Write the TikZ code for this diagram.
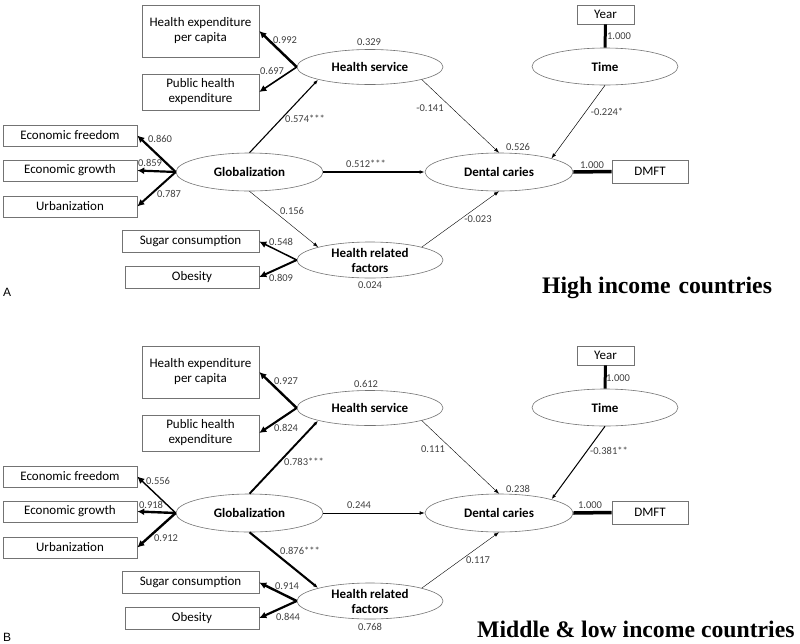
\documentclass[tikz,border=0pt]{standalone}
\usepackage{fontspec}
\setmainfont{Carlito}
\newfontfamily\titlefont{Liberation Serif}
\newfontfamily\panelfont{Liberation Sans}
\usetikzlibrary{shapes.geometric, arrows.meta, positioning}

\tikzset{
  latent/.style={ellipse, draw=black!55, line width=0.6pt, inner sep=0pt,
    align=center, font=\fontsize{13}{15}\selectfont\bfseries},
  manifest/.style={rectangle, draw=black!55, line width=0.6pt, inner sep=0pt,
    align=center, font=\fontsize{13}{15}\selectfont},
  coef/.style={font=\fontsize{10.5}{11}\selectfont, text=black!75, inner sep=0.5pt},
  loading/.style={-{Latex[length=7pt,width=7pt]}, line width=#1},
  effect/.style={-{Latex[length=5pt,width=3.6pt]}, line width=#1},
  fixedlink/.style={line width=#1},
  title/.style={font=\titlefont\bfseries\fontsize{23.7}{26}\selectfont, anchor=base west, inner sep=0pt},
  panel/.style={font=\panelfont\fontsize{12}{14}\selectfont, anchor=base west, inner sep=0pt}
}

% nodes shared by both panels
\newcommand{\semnodes}{%
  \node[manifest, minimum width=117pt, minimum height=52pt] (hepc) at (200.5,31) {Health expenditure\\per capita};
  \node[manifest, minimum width=117pt, minimum height=36pt] (phe) at (200.5,92) {Public health\\expenditure};
  \node[manifest, minimum width=134pt, minimum height=21pt] (ecof) at (70,135.5) {Economic freedom};
  \node[manifest, minimum width=134pt, minimum height=21pt] (ecog) at (70,170.5) {Economic growth};
  \node[manifest, minimum width=134pt, minimum height=21pt] (urb) at (70,206.5) {Urbanization};
  \node[manifest, minimum width=137pt, minimum height=22pt] (sugar) at (190.5,241.5) {Sugar consumption};
  \node[manifest, minimum width=134pt, minimum height=22pt] (obes) at (192,277) {Obesity};
  \node[manifest, minimum width=57pt, minimum height=19pt] (year) at (605.5,14.5) {Year};
  \node[manifest, minimum width=76pt, minimum height=23pt] (dmft) at (650,171.5) {DMFT};
  \node[latent, minimum width=147pt, minimum height=38pt] (glob) at (249.5,172) {Globalization};
  \node[latent, minimum width=146pt, minimum height=35pt] (hs) at (370,67) {Health service};
  \node[latent, minimum width=146pt, minimum height=36pt] (hrf) at (370,260) {Health related\\factors};
  \node[latent, minimum width=148pt, minimum height=38pt] (dc) at (499,172) {Dental caries};
  \node[latent, minimum width=146pt, minimum height=37pt] (time) at (605,66.5) {Time};
}

\begin{document}
\begin{tikzpicture}[x=1pt, y=-1pt]
\useasboundingbox (0,0) rectangle (800,643);

% Panel A: high income countries
\begin{scope}[name prefix=a-]
  \semnodes
  \draw[loading=2.5pt] (hs.west) -- (hepc.east);
  \draw[loading=1.6pt] (hs.west) -- (phe.east);
  \draw[loading=2.2pt] (glob.west) -- (ecof.east);
  \draw[loading=2.2pt] (glob.west) -- (ecog.east);
  \draw[loading=2pt] (glob.west) -- (urb.east);
  \draw[loading=1.5pt] (hrf.west) -- (sugar.east);
  \draw[loading=2pt] (hrf.west) -- (obes.east);
  \draw[effect=1.1pt] (glob.north) -- (hs.south west);
  \draw[effect=1.2pt] (glob.east) -- (dc.west);
  \draw[effect=0.4pt] (glob.south) -- (hrf.north west);
  \draw[effect=0.4pt] (hs.south east) -- (dc.north);
  \draw[effect=0.4pt] (hrf.north east) -- (dc.south);
  \draw[effect=0.5pt] (time.south) -- (dc.north east);
  \draw[fixedlink=3pt] (year.south) -- (time.north);
  \draw[fixedlink=3.5pt] (dc.east) -- (dmft.west);
  % coefficients
  \node[coef] (c1) at (285,40) {0.992};
  \node[coef] (c2) at (272,71) {0.697};
  \node[coef] (c3) at (369,42) {0.329};
  \node[coef] (c4) at (305,119) {0.574***};
  \node[coef] (c5) at (160,139) {0.860};
  \node[coef] (c6) at (150,163) {0.859};
  \node[coef] (c7) at (169,194) {0.787};
  \node[coef] (c8) at (292,211) {0.156};
  \node[coef] (c9) at (366,164) {0.512***};
  \node[coef] (c10) at (281,242) {0.548};
  \node[coef] (c11) at (281,278) {0.809};
  \node[coef] (c12) at (370,285) {0.024};
  \node[coef] (c13) at (430,108) {-0.141};
  \node[coef] (c14) at (607,112) {-0.224*};
  \node[coef] (c15) at (518,147) {0.526};
  \node[coef] (c16) at (592,165) {1.000};
  \node[coef] (c17) at (619,36) {1.000};
  \node[coef] (c18) at (478,219) {-0.023};
  \node[panel] (lbl) at (3,296) {A};
  \node[title] (ttl) at (542,293) {High income\hspace{2pt} countries};
\end{scope}

% Panel B: middle & low income countries
\begin{scope}[shift={(0,341)}, name prefix=b-]
  \semnodes
  \draw[loading=2.4pt] (hs.west) -- (hepc.east);
  \draw[loading=2.1pt] (hs.west) -- (phe.east);
  \draw[loading=1.4pt] (glob.west) -- (ecof.east);
  \draw[loading=2.4pt] (glob.west) -- (ecog.east);
  \draw[loading=2.4pt] (glob.west) -- (urb.east);
  \draw[loading=2.4pt] (hrf.west) -- (sugar.east);
  \draw[loading=2.2pt] (hrf.west) -- (obes.east);
  \draw[effect=1.9pt] (glob.north) -- (hs.south west);
  \draw[effect=0.6pt] (glob.east) -- (dc.west);
  \draw[effect=2.1pt] (glob.south) -- (hrf.north west);
  \draw[effect=0.4pt] (hs.south east) -- (dc.north);
  \draw[effect=0.4pt] (hrf.north east) -- (dc.south);
  \draw[effect=1pt] (time.south) -- (dc.north east);
  \draw[fixedlink=3pt] (year.south) -- (time.north);
  \draw[fixedlink=3.5pt] (dc.east) -- (dmft.west);
  % coefficients
  \node[coef] (c1) at (286,40) {0.927};
  \node[coef] (c2) at (286,87) {0.824};
  \node[coef] (c3) at (366,43) {0.612};
  \node[coef] (c4) at (304,121) {0.783***};
  \node[coef] (c5) at (158,140) {0.556};
  \node[coef] (c6) at (151,164) {0.918};
  \node[coef] (c7) at (166,197) {0.912};
  \node[coef] (c8) at (300,210) {0.876***};
  \node[coef] (c9) at (359,164) {0.244};
  \node[coef] (c10) at (287,245) {0.914};
  \node[coef] (c11) at (288,276) {0.844};
  \node[coef] (c12) at (370,286) {0.768};
  \node[coef] (c13) at (433,108) {0.111};
  \node[coef] (c14) at (609,110) {-0.381**};
  \node[coef] (c15) at (518,148) {0.238};
  \node[coef] (c16) at (590,164) {1.000};
  \node[coef] (c17) at (618,37) {1.000};
  \node[coef] (c18) at (478,219) {0.117};
  \node[panel] (lbl) at (3,300) {B};
  \node[title] (ttl) at (477,296) {Middle \& low income countries};
\end{scope}
\end{tikzpicture}
\end{document}
